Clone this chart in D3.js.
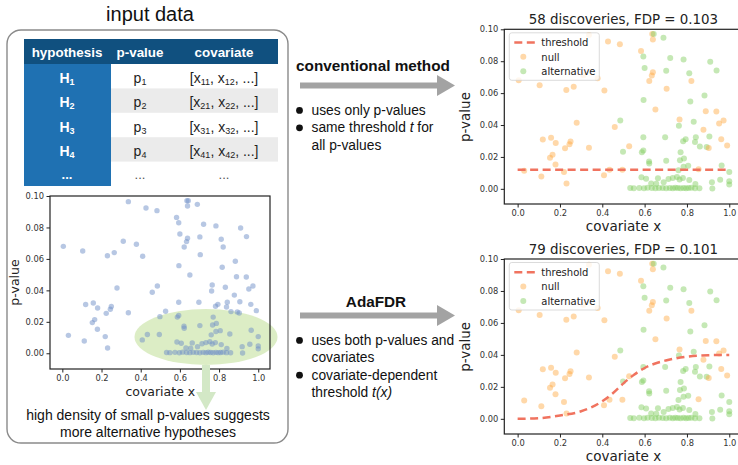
<!DOCTYPE html>
<html>
<head>
<meta charset="utf-8">
<title>AdaFDR overview</title>
<script src="https://cdn.jsdelivr.net/npm/d3@7"></script>
<style>
  body { margin: 0; background: white; }
  svg { display: block; }
  .sans { font-family: "Liberation Sans", Arial, sans-serif; }
  .mpl { font-family: "DejaVu Sans", sans-serif; }
</style>
</head>
<body>
<div id="chart"></div>
<script>
// covariate / p-value pairs (shared by all three scatter plots)
var covX = [0.005, 0.031, 0.104, 0.112, 0.119, 0.158, 0.153, 0.165, 0.180, 0.179,
            0.219, 0.230, 0.224, 0.231, 0.245, 0.250, 0.265, 0.279, 0.311, 0.337,
            0.337, 0.378, 0.410, 0.408, 0.427, 0.434, 0.459, 0.483, 0.485, 0.495,
            0.498, 0.527, 0.583, 0.594, 0.600, 0.595, 0.594, 0.587, 0.594, 0.622,
            0.636, 0.643, 0.639, 0.639, 0.634, 0.651, 0.621, 0.622, 0.689, 0.702,
            0.704, 0.697, 0.702, 0.721, 0.784, 0.811, 0.821, 0.816, 0.883, 0.889,
            0.910, 0.940, 0.939, 0.765, 0.762, 0.832, 0.952, 0.973, 0.878, 0.906,
            0.842, 0.794, 0.782, 0.838, 0.893, 0.903, 0.861, 0.962, 0.990, 0.770,
            0.767, 0.786, 0.806, 0.784, 0.760, 0.855, 0.964, 1.000, 1.000, 1.000,
            0.918, 0.957, 0.840, 0.811, 0.765, 0.781, 0.713, 0.690, 0.663, 0.585,
            0.607, 0.631, 0.655, 0.733, 0.753,
            0.532, 0.549, 0.575, 0.597, 0.614, 0.634, 0.651, 0.668, 0.685, 0.702,
            0.719, 0.733, 0.745, 0.757, 0.770, 0.784, 0.796, 0.808, 0.821, 0.838,
            0.859, 0.920];
var pVal = [0.0680, 0.0114, 0.0650, 0.0078, 0.0310, 0.0320, 0.0195, 0.0214, 0.0288, 0.0153,
            0.0106, 0.0620, 0.0254, 0.0034, 0.0280, 0.0297, 0.0640, 0.0415, 0.0712, 0.0964,
            0.0258, 0.0693, 0.0617, 0.0085, 0.0924, 0.0119, 0.0388, 0.0907, 0.0428, 0.0119,
            0.0233, 0.0267, 0.0864, 0.0830, 0.0758, 0.0557, 0.0324, 0.0230, 0.0240, 0.0676,
            0.0970, 0.0970, 0.0936, 0.0731, 0.0710, 0.0498, 0.0172, 0.0159, 0.0947, 0.0740,
            0.0627, 0.0324, 0.0176, 0.0820, 0.0810, 0.0725, 0.0676, 0.0547, 0.0585, 0.0487,
            0.0797, 0.0742, 0.0485, 0.0434, 0.0396, 0.0420, 0.0409, 0.0428, 0.0370, 0.0328,
            0.0324, 0.0311, 0.0299, 0.0294, 0.0263, 0.0256, 0.0265, 0.0311, 0.0271, 0.0230,
            0.0180, 0.0190, 0.0144, 0.0138, 0.0117, 0.0123, 0.0146, 0.0106, 0.0047, 0.0028,
            0.0042, 0.0057, 0.0030, 0.0055, 0.0059, 0.0068, 0.0061, 0.0042, 0.0066, 0.0072,
            0.0064, 0.0034, 0.0032, 0.0068, 0.0074,
            0.0005, 0.0004, 0.0006, 0.0003, 0.0007, 0.0005, 0.0004, 0.0006, 0.0005, 0.0003,
            0.0006, 0.0004, 0.0007, 0.0005, 0.0003, 0.0006, 0.0004, 0.0005, 0.0007, 0.0004,
            0.0003, 0.0002];
// 1 = alternative, 0 = null
var isAlt = [0, 0, 0, 0, 0, 0, 0, 0, 0, 0,
             0, 0, 0, 0, 0, 0, 0, 0, 0, 0,
             0, 0, 0, 0, 0, 0, 0, 0, 1, 0,
             1, 0, 0, 1, 1, 1, 1, 1, 1, 0,
             0, 1, 0, 0, 0, 0, 1, 1, 1, 1,
             0, 1, 1, 1, 1, 1, 0, 1, 1, 0,
             1, 1, 0, 0, 1, 1, 0, 0, 0, 1,
             1, 1, 1, 1, 1, 0, 1, 0, 0, 1,
             1, 1, 1, 1, 1, 0, 1, 1, 1, 1,
             1, 1, 1, 1, 1, 1, 1, 1, 1, 1,
             1, 1, 1, 1, 1,
             1, 1, 1, 1, 1, 1, 1, 1, 1, 1,
             1, 1, 1, 1, 1, 1, 1, 1, 1, 1,
             1, 1];

var flatThreshX = [0, 0.99];
var flatThreshP = [0.012, 0.012];
var adaThreshX = [0, 0.1, 0.2, 0.3, 0.4, 0.45, 0.5, 0.55, 0.6, 0.7, 0.8, 0.9, 1.0];
var adaThreshP = [0.0, 0.0004, 0.0021, 0.0047, 0.0110, 0.0160, 0.0222, 0.0276, 0.0318, 0.0365, 0.0389, 0.0398, 0.0400];

var xTicks = [0, 0.2, 0.4, 0.6, 0.8, 1.0];
var yTicks = [0, 0.02, 0.04, 0.06, 0.08, 0.10];

var tableHeader = ['hypothesis', 'p-value', 'covariate'];
var tableRows = ['1', '2', '3', '4'];

var titles = ['58 discoveries, FDP = 0.103', '79 discoveries, FDP = 0.101'];

var points = covX.map(function(d, i) { return { x: d, p: pVal[i], alt: isAlt[i] }; });

var svg = d3.select('#chart').append('svg')
    .attr('width', 738)
    .attr('height', 465);

// ---------- left panel: input data ----------
svg.append('text')
    .attr('class', 'sans')
    .attr('x', 150).attr('y', 20.5)
    .attr('text-anchor', 'middle')
    .attr('font-size', 20)
    .attr('fill', '#111')
    .text('input data');

svg.append('rect')
    .attr('x', 7).attr('y', 30)
    .attr('width', 281).attr('height', 413)
    .attr('rx', 14)
    .attr('fill', 'none')
    .attr('stroke', '#8a8a8a')
    .attr('stroke-width', 1.4);

// table
var tx0 = 24, tx1 = 111, tx2 = 278, headTop = 39, headH = 25, rowH = 24.4;
var colCenters = [67, 140, 224];

svg.append('rect').attr('x', tx0).attr('y', headTop).attr('width', tx2 - tx0).attr('height', headH).attr('fill', '#10507f');
svg.append('rect').attr('x', tx0).attr('y', headTop + headH).attr('width', tx1 - tx0).attr('height', rowH * 5).attr('fill', '#1f71b2');
[1, 3].forEach(function(r) {
  svg.append('rect').attr('x', tx1).attr('y', headTop + headH + r * rowH)
      .attr('width', tx2 - tx1).attr('height', rowH).attr('fill', '#ebebeb');
});

svg.selectAll('.head')
    .data(tableHeader)
  .enter().append('text')
    .attr('class', 'sans')
    .attr('x', function(d, i) { return colCenters[i]; })
    .attr('y', headTop + 18)
    .attr('text-anchor', 'middle')
    .attr('font-size', 13.4)
    .attr('font-weight', 'bold')
    .attr('fill', 'white')
    .text(function(d) { return d; });

tableRows.forEach(function(n, r) {
  var by = headTop + headH + r * rowH + 19;
  var h = svg.append('text').attr('class', 'sans').attr('x', colCenters[0]).attr('y', by)
      .attr('text-anchor', 'middle').attr('font-size', 14).attr('font-weight', 'bold').attr('fill', 'white');
  h.append('tspan').text('H');
  h.append('tspan').attr('font-size', 9).attr('dy', 2).text(n);

  var p = svg.append('text').attr('class', 'sans').attr('x', colCenters[1]).attr('y', by)
      .attr('text-anchor', 'middle').attr('font-size', 14).attr('fill', '#222');
  p.append('tspan').text('p');
  p.append('tspan').attr('font-size', 9).attr('dy', 2).text(n);

  var c = svg.append('text').attr('class', 'sans').attr('x', colCenters[2]).attr('y', by)
      .attr('text-anchor', 'middle').attr('font-size', 14).attr('fill', '#222');
  c.append('tspan').text('[x');
  c.append('tspan').attr('font-size', 9).attr('dy', 2).text(n + '1');
  c.append('tspan').attr('dy', -2).text(', x');
  c.append('tspan').attr('font-size', 9).attr('dy', 2).text(n + '2');
  c.append('tspan').attr('dy', -2).text(', ...]');
});
var lastY = headTop + headH + 4 * rowH + 17;
svg.append('text').attr('class', 'sans').attr('x', colCenters[0]).attr('y', lastY)
    .attr('text-anchor', 'middle').attr('font-size', 13).attr('font-weight', 'bold').attr('fill', 'white').text('...');
[1, 2].forEach(function(i) {
  svg.append('text').attr('class', 'sans').attr('x', colCenters[i]).attr('y', lastY)
      .attr('text-anchor', 'middle').attr('font-size', 13).attr('fill', '#555').text('...');
});

// ---------- scatter plot helper ----------
function drawPlot(f, opts) {
  var x = d3.scaleLinear().domain(f.xDom).range([f.x0, f.x1]);
  var y = d3.scaleLinear().domain(f.yDom).range([f.y1, f.y0]);
  var g = svg.append('g').attr('class', 'mpl');

  if (opts.before) opts.before(g, x, y);

  g.selectAll('circle.pt')
      .data(points)
    .enter().append('circle')
      .attr('class', 'pt')
      .attr('cx', function(d) { return x(d.x); })
      .attr('cy', function(d) { return y(d.p); })
      .attr('r', f.r)
      .attr('fill', function(d) { return opts.color(d); })
      .attr('fill-opacity', opts.alpha);

  if (opts.thresh) {
    var line = d3.line()
        .x(function(d) { return x(d[0]); })
        .y(function(d) { return y(d[1]); })
        .curve(d3.curveMonotoneX);
    g.append('path')
        .datum(opts.thresh[0].map(function(d, i) { return [d, opts.thresh[1][i]]; }))
        .attr('d', line)
        .attr('fill', 'none')
        .attr('stroke', '#f0735f')
        .attr('stroke-width', 2.5)
        .attr('stroke-dasharray', '8,4.5');
  }

  // frame
  g.append('rect')
      .attr('x', f.x0).attr('y', f.y0)
      .attr('width', f.x1 - f.x0).attr('height', f.y1 - f.y0)
      .attr('fill', 'none').attr('stroke', '#222').attr('stroke-width', 1.2);

  var xa = g.append('g').attr('transform', 'translate(0,' + f.y1 + ')')
      .call(d3.axisBottom(x).tickValues(xTicks).tickFormat(d3.format('.1f')).tickSize(3.5).tickPadding(2.5));
  var ya = g.append('g').attr('transform', 'translate(' + f.x0 + ',0)')
      .call(d3.axisLeft(y).tickValues(yTicks).tickFormat(d3.format('.2f')).tickSize(3.5).tickPadding(2.5));
  [xa, ya].forEach(function(a) {
    a.select('.domain').remove();
    a.selectAll('line').attr('stroke', '#222');
    a.selectAll('text').attr('font-family', 'DejaVu Sans, sans-serif').attr('font-size', f.tickFs).attr('fill', '#333');
  });

  g.append('text')
      .attr('x', (x(0) + x(1)) / 2).attr('y', f.y1 + 27)
      .attr('text-anchor', 'middle').attr('font-size', f.labFs).attr('fill', '#222')
      .text('covariate x');
  g.append('text')
      .attr('transform', 'translate(' + f.ylabX + ',' + (y(0.045)) + ') rotate(-90)')
      .attr('text-anchor', 'middle').attr('font-size', f.labFs).attr('fill', '#222')
      .text('p-value');

  if (opts.title) {
    g.append('text')
        .attr('x', (x(0) + x(1)) / 2).attr('y', f.y0 - 5.5)
        .attr('text-anchor', 'middle').attr('font-size', 13.4).attr('fill', '#222')
        .text(opts.title);
  }

  if (opts.legend) {
    var lx = f.x0 + 5, ly = f.y0 + 3.5;
    var lg = g.append('g');
    lg.append('rect').attr('x', lx).attr('y', ly).attr('width', 90).attr('height', 47.5)
        .attr('rx', 2.5).attr('fill', 'white').attr('fill-opacity', 0.8)
        .attr('stroke', '#d2d2d2').attr('stroke-width', 0.8);
    lg.append('line').attr('x1', lx + 5).attr('x2', lx + 27).attr('y1', ly + 9.8).attr('y2', ly + 9.8)
        .attr('stroke', '#f0735f').attr('stroke-width', 2.5).attr('stroke-dasharray', '8,4.5');
    lg.append('circle').attr('cx', lx + 14).attr('cy', ly + 24).attr('r', f.r).attr('fill', '#ffa940').attr('fill-opacity', 0.45);
    lg.append('circle').attr('cx', lx + 14).attr('cy', ly + 38.5).attr('r', f.r).attr('fill', '#7fcc5c').attr('fill-opacity', 0.45);
    ['threshold', 'null', 'alternative'].forEach(function(t, i) {
      lg.append('text').attr('x', lx + 32).attr('y', ly + 13.5 + i * 14.3)
          .attr('font-size', 10).attr('fill', '#222').text(t);
    });
  }
}

// left scatter with highlighted region
drawPlot({ x0: 50, x1: 270, y0: 196, y1: 369, xDom: [-0.063, 1.06], yDom: [-0.01, 0.10], r: 2.7, ylabX: 19, tickFs: 8.3, labFs: 12.5 }, {
  color: function() { return '#6f8fc7'; },
  alpha: 0.5,
  before: function(g, x, y) {
    g.append('ellipse')
        .attr('cx', 206).attr('cy', 337).attr('rx', 71.5).attr('ry', 28)
        .attr('fill', '#d3e8b6').attr('fill-opacity', 0.8);
  }
});

// down arrow from the highlighted region
svg.append('rect').attr('x', 202).attr('y', 365).attr('width', 8).attr('height', 27).attr('fill', '#d3e8c6');
svg.append('path').attr('d', 'M196,392 L216,392 L206,410 Z').attr('fill', '#d3e8c6');

svg.append('text').attr('class', 'sans').attr('x', 148).attr('y', 420)
    .attr('text-anchor', 'middle').attr('font-size', 14).attr('fill', '#111')
    .text('high density of small p-values suggests');
svg.append('text').attr('class', 'sans').attr('x', 148).attr('y', 436.5)
    .attr('text-anchor', 'middle').attr('font-size', 14).attr('fill', '#111')
    .text('more alternative hypotheses');

// ---------- middle: methods ----------
function methodArrow(cy) {
  svg.append('rect').attr('x', 300).attr('y', cy - 3).attr('width', 138).attr('height', 6).attr('fill', '#a3a3a3');
  svg.append('path').attr('d', 'M437,' + (cy - 10.5) + ' L455,' + cy + ' L437,' + (cy + 10.5) + ' Z').attr('fill', '#a3a3a3');
}

function bulletLines(lines, y0, bullets) {
  lines.forEach(function(parts, i) {
    var yy = y0 + i * 17.4;
    if (bullets[i]) {
      svg.append('circle').attr('cx', 299.5).attr('cy', yy - 4.6).attr('r', 3.4).attr('fill', '#111');
    }
    var t = svg.append('text').attr('class', 'sans').attr('x', 311.5).attr('y', yy)
        .attr('font-size', 13.8).attr('fill', '#111');
    parts.forEach(function(p) {
      t.append('tspan').attr('font-style', p[1] ? 'italic' : 'normal').text(p[0]);
    });
  });
}

svg.append('text').attr('class', 'sans').attr('x', 373).attr('y', 70.5)
    .attr('text-anchor', 'middle').attr('font-size', 15.3).attr('font-weight', 'bold').attr('fill', '#111')
    .text('conventional method');
methodArrow(85.5);
bulletLines([
  [['uses only p-values', 0]],
  [['same threshold ', 0], ['t', 1], [' for', 0]],
  [['all p-values', 0]]
], 115, [1, 1, 0]);

svg.append('text').attr('class', 'sans').attr('x', 376).attr('y', 307)
    .attr('text-anchor', 'middle').attr('font-size', 15.3).attr('font-weight', 'bold').attr('fill', '#111')
    .text('AdaFDR');
methodArrow(315.5);
bulletLines([
  [['uses both p-values and', 0]],
  [['covariates', 0]],
  [['covariate-dependent', 0]],
  [['threshold ', 0], ['t(x)', 1]]
], 345, [1, 0, 1, 0]);

// ---------- right: results ----------
var altColor = function(d) { return d.alt ? '#7fcc5c' : '#ffa940'; };

drawPlot({ x0: 504.3, x1: 742.6, y0: 29.3, y1: 204, xDom: [-0.063, 1.063], yDom: [-0.0095, 0.10], r: 3, ylabX: 470, tickFs: 8.3, labFs: 13.5 }, {
  color: altColor, alpha: 0.45, title: titles[0], legend: true,
  thresh: [flatThreshX, flatThreshP]
});

drawPlot({ x0: 504.3, x1: 742.6, y0: 259, y1: 434, xDom: [-0.063, 1.063], yDom: [-0.0095, 0.10], r: 3, ylabX: 470, tickFs: 8.3, labFs: 13.5 }, {
  color: altColor, alpha: 0.45, title: titles[1], legend: true,
  thresh: [adaThreshX, adaThreshP]
});
</script>
</body>
</html>
